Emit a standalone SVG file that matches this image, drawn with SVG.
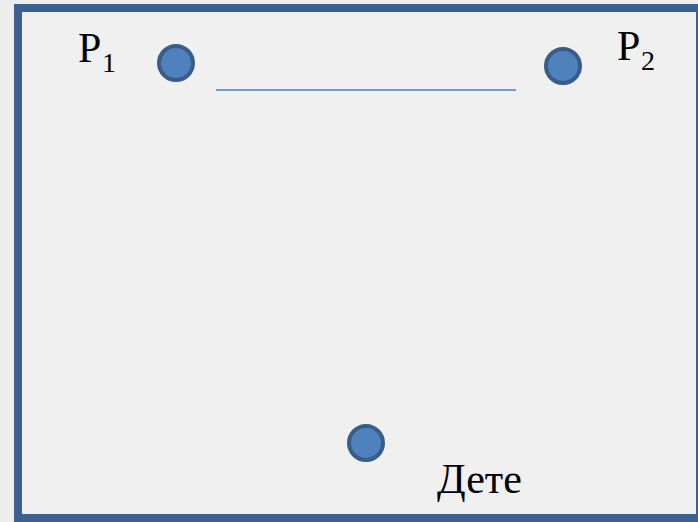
<svg xmlns="http://www.w3.org/2000/svg" width="698" height="522" viewBox="0 0 698 522">
<defs>
<style>
.node circle{fill:#4f81bd;stroke:#385d8a;stroke-width:4}
</style>
</defs>
<rect x="0" y="0" width="698" height="522" fill="#ededed"/>
<rect x="18" y="8" width="682" height="510" fill="#f0f0f0" stroke="#3b6091" stroke-width="8"/>
<g id="connectors">
<line x1="216" y1="90" x2="516" y2="90" stroke="#4a7ebb" stroke-width="1.5"/>
</g>
<g font-family="'Liberation Serif', 'DejaVu Serif', 'Times New Roman', serif" fill="#000">
<g id="p1" class="node">
<circle cx="176" cy="63" r="17"/>
<text x="78" y="62" font-size="42">P</text>
<text x="102" y="72" font-size="28">1</text>
</g>
<g id="p2" class="node">
<circle cx="563" cy="66" r="17"/>
<text x="617" y="60" font-size="42">P</text>
<text x="641" y="70" font-size="28">2</text>
</g>
<g id="child" class="node">
<circle cx="366" cy="443" r="17"/>
<text x="437" y="493" font-size="42">Дете</text>
</g>
</g>
</svg>
